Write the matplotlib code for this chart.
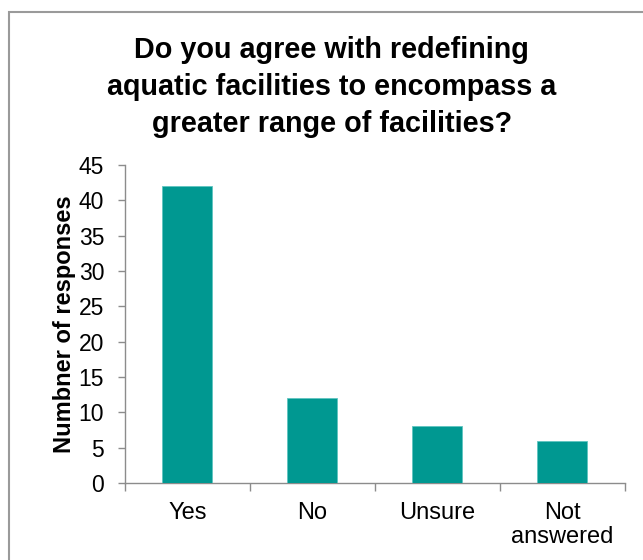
import matplotlib.pyplot as plt
from matplotlib.patches import Rectangle

categories = ["Yes", "No", "Unsure", "Not\nanswered"]
responses = [42, 12, 8, 6]

plt.rcParams['font.family'] = ['Liberation Sans', 'DejaVu Sans']

fig = plt.figure(figsize=(6.43, 5.60), dpi=100)
ax = fig.add_axes([0.1944, 0.1375, 0.7776, 0.568])

x = range(len(categories))
ax.bar(x, responses, width=0.4, color='#009891', edgecolor='#5fc4c0', linewidth=0.6, zorder=3)

ax.set_xlim(-0.5, len(categories) - 0.5)
ax.set_ylim(0, 45)
ax.set_yticks(range(0, 50, 5))
ax.set_xticks(x)
ax.set_xticklabels(categories, fontsize=17, linespacing=1.1)
ax.set_xticks([i - 0.5 for i in range(len(categories) + 1)], minor=True)
ax.tick_params(axis='x', which='major', length=0, pad=14)
ax.tick_params(axis='x', which='minor', length=6, color='#8c8c8c', width=1)
ax.tick_params(axis='y', length=5, color='#8c8c8c', width=1, labelsize=16.5, pad=10)

for s in ['top', 'right']:
    ax.spines[s].set_visible(False)
for s in ['left', 'bottom']:
    ax.spines[s].set_color('#8c8c8c')
    ax.spines[s].set_linewidth(1)

ax.set_ylabel("Numbner of responses", fontsize=17, fontweight='bold', labelpad=2)

fig.text(0.516, 0.845, "Do you agree with redefining\naquatic facilities to encompass a\ngreater range of facilities?",
         ha='center', va='center', fontsize=20.7, fontweight='bold', linespacing=1.4)

# outer frame (only top and left edges fall inside the image)
fig.patches.append(Rectangle((9 / 643, -0.1), 1.2, 548 / 560 + 0.1, transform=fig.transFigure,
                             fill=False, edgecolor='#9a9a9a', linewidth=1.5))

fig.savefig("out.png")
